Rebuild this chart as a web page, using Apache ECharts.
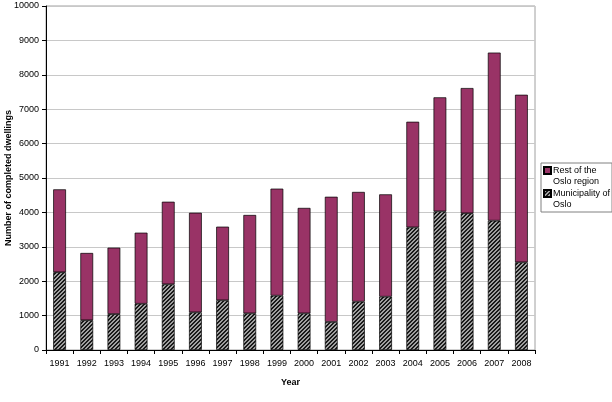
<!DOCTYPE html>
<html>
<head>
<meta charset="utf-8">
<script src="https://cdn.jsdelivr.net/npm/echarts@6/dist/echarts.min.js"></script>
<style>html,body{margin:0;padding:0;background:#fff;}#c{width:612px;height:402px;}</style>
</head>
<body>
<div id="c"></div>
<script>
const years = ['1991','1992','1993','1994','1995','1996','1997','1998','1999','2000','2001','2002','2003','2004','2005','2006','2007','2008'];
const totals = [4670, 2820, 2975, 3410, 4310, 3990, 3585, 3925, 4690, 4130, 4455, 4595, 4525, 6635, 7345, 7615, 8645, 7420];
const oslo = [2260, 865, 1045, 1345, 1910, 1095, 1445, 1065, 1580, 1065, 815, 1405, 1550, 3565, 4030, 3975, 3760, 2550];
const rest = totals.map((t, i) => t - oslo[i]);
const yTicks = [0, 1000, 2000, 3000, 4000, 5000, 6000, 7000, 8000, 9000, 10000];

const pc = document.createElement('canvas');
pc.width = 4; pc.height = 4;
const g = pc.getContext('2d');
g.fillStyle = '#a0a0a0'; g.fillRect(0, 0, 4, 4);
g.fillStyle = '#1a1a1a';
for (let i = 0; i < 4; i++) { g.fillRect((3 - i + 4) % 4, i, 2, 1); if ((3 - i) + 2 > 4) g.fillRect(0, i, (3 - i) + 2 - 4, 1); }
const hatch = { image: pc, repeat: 'repeat' };

const chart = echarts.init(document.getElementById('c'), null, { renderer: 'canvas' });
const font = 'Arial, "Liberation Sans", sans-serif';
const legendIcon = 'path://M0,0h7v7h-7z M0,18';
chart.setOption({
  animation: false,
  textStyle: { fontFamily: font },
  grid: { left: 46, right: 77, top: 6, bottom: 52, show: true, borderColor: '#a0a0a0', borderWidth: 1, containLabel: false, outerBoundsMode: 'none' },
  legend: {
    orient: 'vertical', left: 541, top: 163, width: 70,
    data: ['Rest of the Oslo region', 'Municipality of Oslo'],
    formatter: n => n === 'Rest of the Oslo region' ? 'Rest of the\nOslo region' : 'Municipality of\nOslo',
    itemWidth: 7, itemHeight: 18, itemGap: 1,
    padding: [2, 2, 2, 2],
    borderColor: '#808080', borderWidth: 1,
    textStyle: { fontSize: 9, color: '#000', fontFamily: font, lineHeight: 11, padding: [0, 0, 0, -3] },
    icon: legendIcon, align: 'left'
  },
  xAxis: {
    type: 'category', data: years,
    name: 'Year', nameLocation: 'middle', nameGap: 28, nameMoveOverlap: false,
    nameTextStyle: { fontSize: 9, fontWeight: 'bold', color: '#000' },
    axisLine: { lineStyle: { color: '#000', width: 1 } },
    axisTick: { show: true, length: 4, lineStyle: { color: '#000' } },
    axisLabel: { fontSize: 9, color: '#000', margin: 9 }
  },
  yAxis: {
    type: 'value', min: 0, max: 10000, interval: 1000,
    name: 'Number of completed dwellings', nameLocation: 'middle', nameGap: 33, nameMoveOverlap: false,
    nameTextStyle: { fontSize: 9, fontWeight: 'bold', color: '#000' },
    axisLine: { show: true, lineStyle: { color: '#000', width: 1 } },
    axisTick: { show: true, length: 4, inside: false, lineStyle: { color: '#000' } },
    axisLabel: { fontSize: 9, color: '#000', margin: 7, formatter: v => yTicks.includes(v) ? String(v) : '' },
    splitLine: { lineStyle: { color: '#c8c8c8', width: 1 } }
  },
  series: [
    {
      name: 'Municipality of Oslo', type: 'bar', stack: 's', data: oslo, barWidth: '47%',
      itemStyle: { color: hatch, borderColor: '#000', borderWidth: 0.7 }
    },
    {
      name: 'Rest of the Oslo region', type: 'bar', stack: 's', data: rest, barWidth: '47%',
      itemStyle: { color: '#993366', borderColor: '#000', borderWidth: 0.7 }
    }
  ]
});
</script>
</body>
</html>
